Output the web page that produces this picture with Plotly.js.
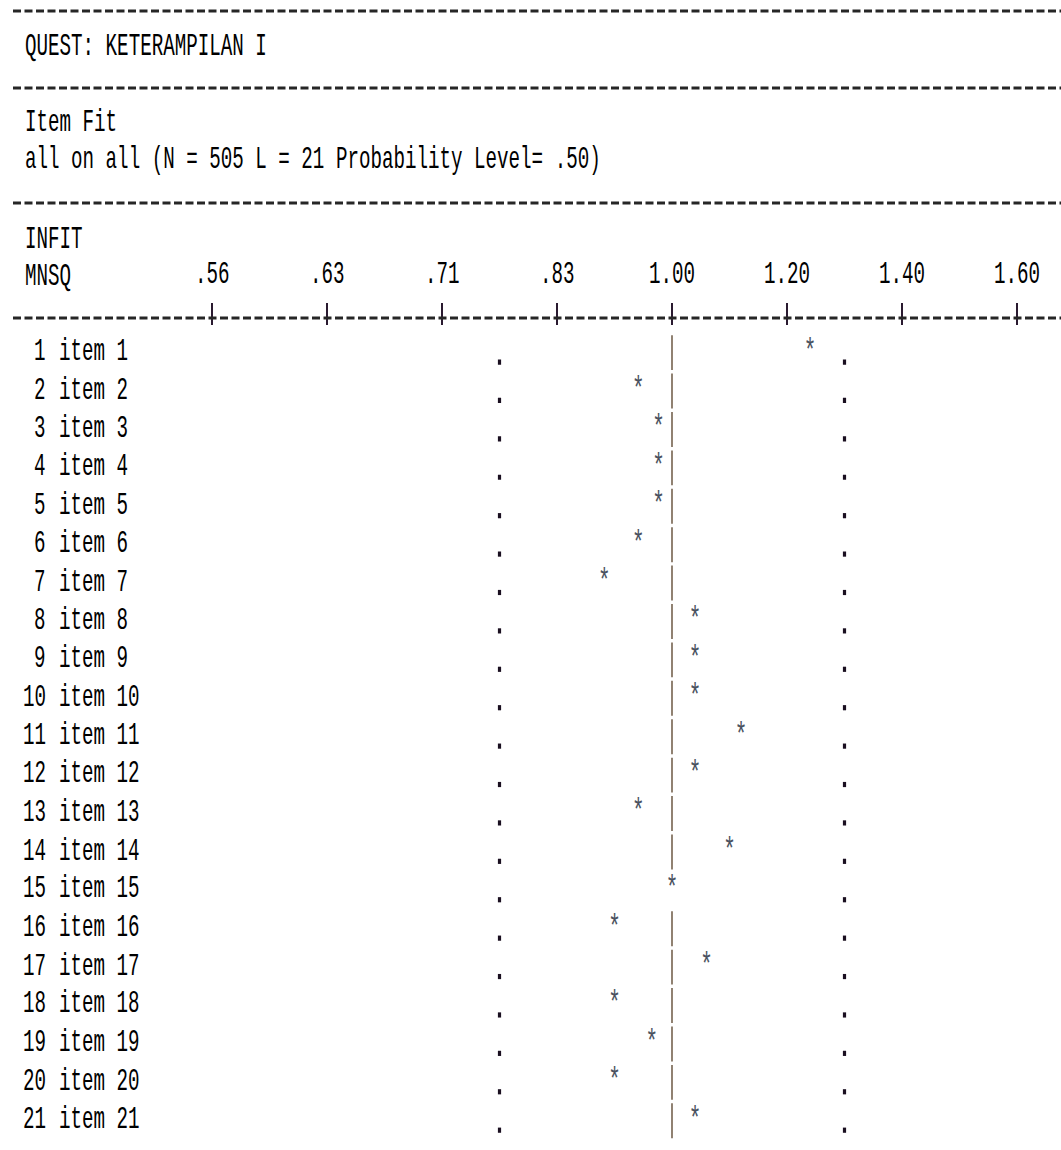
<!DOCTYPE html>
<html><head><meta charset="utf-8">
<script src="https://cdn.plot.ly/plotly-3.0.1.min.js"></script>
<style>
html,body{margin:0;padding:0;background:#fff;overflow:hidden}
#wrap{width:1061px;height:1150px;overflow:hidden;position:relative}
#chart{width:1061px;transform-origin:0 0;position:absolute;left:0;top:0}
</style></head>
<body><div id="wrap"><div id="chart"></div></div>
<script>
// ---- data ----
const tickValues = [0.56, 0.63, 0.71, 0.83, 1.00, 1.20, 1.40, 1.60];
const tickLabels = ['.56', '.63', '.71', '.83', '1.00', '1.20', '1.40', '1.60'];
const itemNumbers = [1,2,3,4,5,6,7,8,9,10,11,12,13,14,15,16,17,18,19,20,21];
const itemNames = ['item 1','item 2','item 3','item 4','item 5','item 6','item 7','item 8','item 9','item 10',
  'item 11','item 12','item 13','item 14','item 15','item 16','item 17','item 18','item 19','item 20','item 21'];
const infitMnsq = [1.24, 0.95, 0.98, 0.98, 0.98, 0.95, 0.90, 1.04, 1.04, 1.04,
  1.12, 1.04, 0.95, 1.10, 1.00, 0.915, 1.06, 0.915, 0.97, 0.915, 1.04];
const lowerLimit = 0.77;
const upperLimit = 1.30;
const expectedValue = 1.00;
const titleText = 'QUEST: KETERAMPILAN I';
const subtitle1 = 'Item Fit';
const subtitle2 = 'all on all (N = 505 L = 21 Probability Level= .50)';
const headerLines = ['INFIT', 'MNSQ'];

// ---- scale: QUEST prints the MNSQ scale with equally spaced printed values ----
function pos(v) {
  for (let i = 0; i < tickValues.length - 1; i++) {
    if (v <= tickValues[i + 1] || i === tickValues.length - 2) {
      return i + (v - tickValues[i]) / (tickValues[i + 1] - tickValues[i]);
    }
  }
}
const tickPos = tickValues.map((v, i) => i);

// ---- layout helpers ----
const W = 1061, FULLH = 1150, S = 1.62, H = FULLH / S;
const py = px => 1 - px / FULLH;     // reference pixel row -> paper fraction
const FONT = 'Liberation Mono, DejaVu Sans Mono, monospace';
const FS = 19.2;
const ink = '#000000';

const rowPx0 = 352, rowStep = 38.4;
const domTop = 327;
const yTop = 1 + (domTop - rowPx0) / rowStep;
const yBot = 1 + (FULLH - rowPx0) / rowStep;
const pxPerTick = 115;
const xLeft = 4 - 672 / pxPerTick;
const xRight = 4 + (W - 672) / pxPerTick;
const baselineShift = 0.26;   // the printed "." sits on the text baseline

// vertical "|" at expected value, broken per row, replaced where a star sits on it
const barX = [], barY = [];
itemNumbers.forEach((n, i) => {
  if (Math.abs(pos(infitMnsq[i]) - pos(expectedValue)) > 0.05) {
    barX.push(pos(expectedValue), pos(expectedValue), null);
    barY.push(n - 0.44, n + 0.47, null);
  }
});

const dotMarker = { symbol: 'square', size: 3.2, color: '#1a0f20', line: { width: 0 } };
const traces = [
  { type: 'scatter', mode: 'lines', x: barX, y: barY,
    line: { color: '#75624f', width: 1.6 }, hoverinfo: 'skip', showlegend: false },
  { type: 'scatter', mode: 'markers', x: itemNumbers.map(() => pos(lowerLimit)),
    y: itemNumbers.map(n => n + baselineShift),
    marker: dotMarker, hoverinfo: 'skip', showlegend: false },
  { type: 'scatter', mode: 'markers', x: itemNumbers.map(() => pos(upperLimit)),
    y: itemNumbers.map(n => n + baselineShift),
    marker: dotMarker, hoverinfo: 'skip', showlegend: false },
  { type: 'scatter', mode: 'text', x: infitMnsq.map(pos), y: itemNumbers,
    text: itemNumbers.map(() => '*'), textposition: 'middle center',
    textfont: { family: FONT, size: 21, color: '#4a5260' }, hoverinfo: 'skip', showlegend: false }
];

const annotations = [];
function addText(text, xpx, ypx, anchor) {
  annotations.push({ text: text, xref: 'paper', yref: 'paper', x: xpx / W, y: py(ypx),
    xanchor: anchor || 'left', yanchor: 'middle', showarrow: false,
    font: { family: FONT, size: FS, color: ink } });
}
addText(titleText, 23, 47);
addText(subtitle1, 23, 123);
addText(subtitle2, 23, 160);
addText(headerLines[0], 23, 240);
addText(headerLines[1], 23, 277);
tickLabels.forEach((t, i) => {
  annotations.push({ text: t, xref: 'x', yref: 'paper', x: tickPos[i], y: py(275),
    xanchor: 'center', yanchor: 'middle', showarrow: false,
    font: { family: FONT, size: FS, color: ink } });
});
itemNumbers.forEach((n, i) => {
  annotations.push({ text: String(n), xref: 'paper', yref: 'y', x: 48 / W, y: n,
    xanchor: 'right', yanchor: 'middle', showarrow: false,
    font: { family: FONT, size: FS, color: ink } });
  annotations.push({ text: itemNames[i], xref: 'paper', yref: 'y', x: 57 / W, y: n,
    xanchor: 'left', yanchor: 'middle', showarrow: false,
    font: { family: FONT, size: FS, color: ink } });
});

const shapes = [11, 88, 203, 318].map(ypx => ({
  type: 'line', xref: 'paper', yref: 'paper', x0: 13 / W, x1: 1, y0: py(ypx), y1: py(ypx),
  line: { color: '#262626', width: 3 / S, dash: '8px,3.5px' }
}));

const layout = {
  width: W, height: H,
  margin: { l: 0, r: 0, t: 0, b: 0, pad: 0 },
  paper_bgcolor: '#ffffff', plot_bgcolor: '#ffffff',
  showlegend: false,
  xaxis: { range: [xLeft, xRight], side: 'top', anchor: 'y',
    tickvals: tickPos, ticktext: tickLabels, showticklabels: false,
    ticks: 'outside', ticklen: 22 / S, tickwidth: 1.5, tickcolor: '#2a1a30',
    showgrid: false, zeroline: false, showline: false, fixedrange: true },
  yaxis: { range: [yBot, yTop], domain: [0, py(domTop)], visible: false,
    showgrid: false, zeroline: false, fixedrange: true },
  annotations: annotations,
  shapes: shapes
};

const el = document.getElementById('chart');
el.style.height = H + 'px';
el.style.transform = 'scaleY(' + S + ')';
Plotly.newPlot(el, traces, layout, { staticPlot: true, displayModeBar: false });
</script>
</body></html>
